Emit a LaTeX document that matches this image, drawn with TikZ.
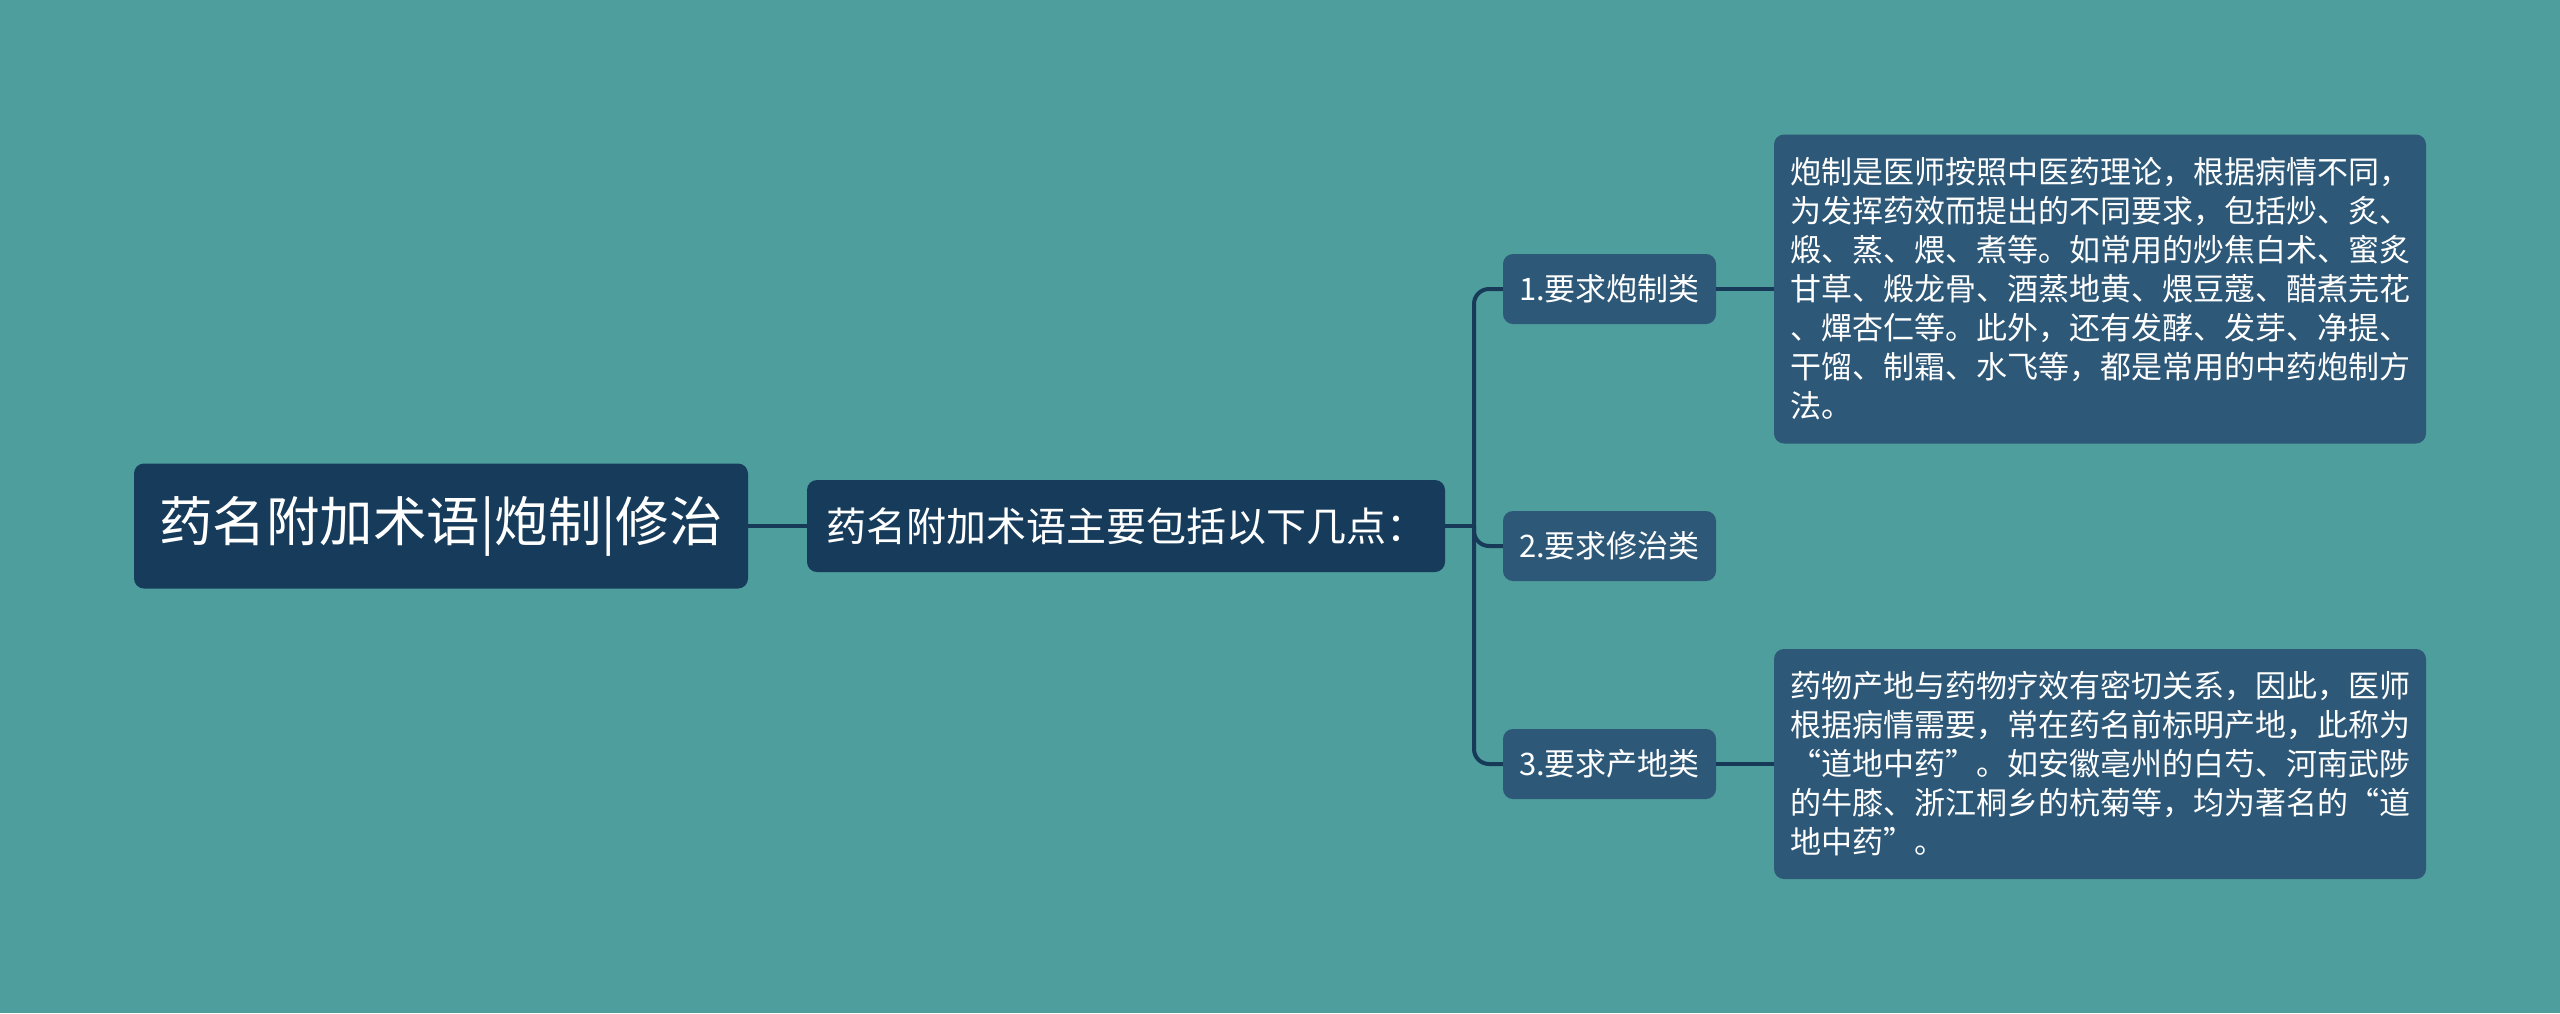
\documentclass[tikz,border=0pt]{standalone}
\usepackage{fontspec}
\setmainfont{Noto Sans CJK SC}
\newfontfamily\fwfont{Noto Sans CJK SC}[RawFeature=+fwid]
\newcommand{\dqo}{{\fwfont “}}
\newcommand{\dqc}{{\fwfont ”}}
\definecolor{bgteal}{HTML}{4E9E9D}
\definecolor{navy}{HTML}{173C5B}
\definecolor{slate}{HTML}{2D5877}
\definecolor{linec}{HTML}{173A59}

\begin{document}
\begin{tikzpicture}[
		x=1pt,y=-1pt,
		every node/.style={text=white,inner sep=0pt},
		rootbox/.style={fill=navy,rounded corners=10pt,minimum width=614pt,minimum height=125pt,font=\fontsize{53.5}{60}\selectfont},
		subbox/.style={fill=navy,rounded corners=10pt,minimum width=638pt,minimum height=92pt,font=\fontsize{40}{48}\selectfont},
		catbox/.style={fill=slate,rounded corners=10pt,minimum width=213pt,minimum height=70pt,font=\fontsize{31}{38}\selectfont},
		notebox/.style={fill=slate,rounded corners=10pt,text width=620pt,inner xsep=16pt,align=left,font=\fontsize{31}{39}\selectfont},
		link/.style={draw=linec,line width=4pt}
		]
		\fill[bgteal] (0,0) rectangle (2560,1013);
		
		\node[rootbox] (root) at (441,526) {药名附加术语|炮制|修治};
		\node[subbox] (sub) at (1126,526) {药名附加术语主要包括以下几点：};
		\node[catbox] (c1) at (1609.5,289) {1.要求炮制类};
		\node[catbox] (c2) at (1609.5,546) {2.要求修治类};
		\node[catbox] (c3) at (1609.5,764) {3.要求产地类};
		\node[notebox,minimum height=309pt] (n1) at (2100,289) {炮制是医师按照中医药理论，根据病情不同，\\为发挥药效而提出的不同要求，包括炒、炙、\\煅、蒸、煨、煮等。如常用的炒焦白术、蜜炙\\甘草、煅龙骨、酒蒸地黄、煨豆蔻、醋煮芫花\\、燀杏仁等。此外，还有发酵、发芽、净提、\\干馏、制霜、水飞等，都是常用的中药炮制方\\法。};
		\node[notebox,minimum height=230pt] (n3) at (2100,764) {药物产地与药物疗效有密切关系，因此，医师\\根据病情需要，常在药名前标明产地，此称为\\\dqo 道地中药\dqc 。如安徽亳州的白芍、河南武陟\\的牛膝、浙江桐乡的杭菊等，均为著名的\dqo 道\\地中药\dqc 。};
		\coordinate (fork) at (1474,526);
		
		\draw[link] (root) -- (sub);
		\draw[link] (sub) -- (fork);
		\foreach \c in {c1,c2,c3}
		\draw[link,rounded corners=15pt] (fork) |- (\c);
		\draw[link] (c1) -- (n1);
		\draw[link] (c3) -- (n3);
	\end{tikzpicture}
\end{document}
